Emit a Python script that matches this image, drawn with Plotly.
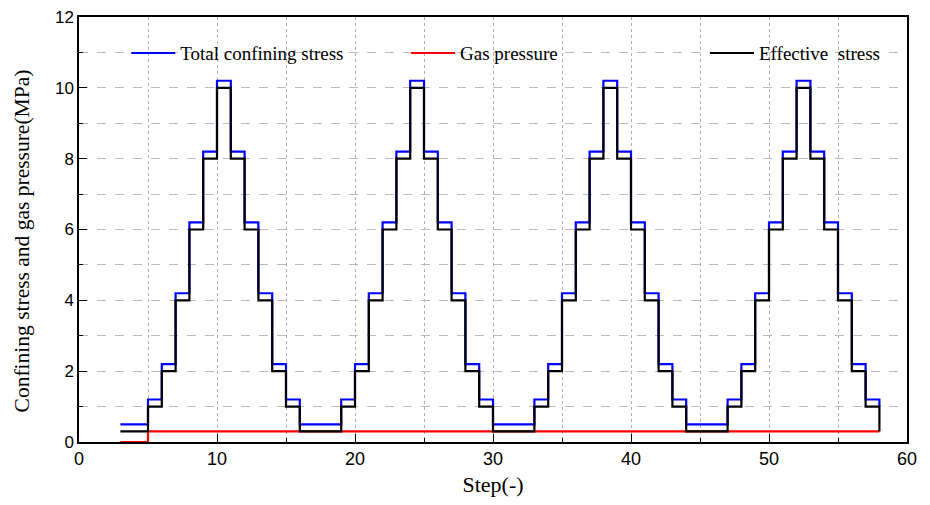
import plotly.graph_objects as go

# step boundaries and levels (line_shape="hv": each value holds until the next step)
total_steps = [3, 5, 6, 7, 8, 9, 10, 11, 12, 13, 14, 15, 16,
               19, 20, 21, 22, 23, 24, 25, 26, 27, 28, 29, 30,
               33, 34, 35, 36, 37, 38, 39, 40, 41, 42, 43, 44,
               47, 48, 49, 50, 51, 52, 53, 54, 55, 56, 57, 58]
total_stress = [0.5, 1.2, 2.2, 4.2, 6.2, 8.2, 10.2, 8.2, 6.2, 4.2, 2.2, 1.2, 0.5,
                1.2, 2.2, 4.2, 6.2, 8.2, 10.2, 8.2, 6.2, 4.2, 2.2, 1.2, 0.5,
                1.2, 2.2, 4.2, 6.2, 8.2, 10.2, 8.2, 6.2, 4.2, 2.2, 1.2, 0.5,
                1.2, 2.2, 4.2, 6.2, 8.2, 10.2, 8.2, 6.2, 4.2, 2.2, 1.2, 1.0]

gas_steps = [3, 5, 58]
gas_pressure = [0.0, 0.3, 0.3]

eff_steps = [3, 5, 6, 7, 8, 9, 10, 11, 12, 13, 14, 15, 16,
             19, 20, 21, 22, 23, 24, 25, 26, 27, 28, 29, 30,
             33, 34, 35, 36, 37, 38, 39, 40, 41, 42, 43, 44,
             47, 48, 49, 50, 51, 52, 53, 54, 55, 56, 57, 58]
effective_stress = [0.3, 1.0, 2.0, 4.0, 6.0, 8.0, 10.0, 8.0, 6.0, 4.0, 2.0, 1.0, 0.3,
                    1.0, 2.0, 4.0, 6.0, 8.0, 10.0, 8.0, 6.0, 4.0, 2.0, 1.0, 0.3,
                    1.0, 2.0, 4.0, 6.0, 8.0, 10.0, 8.0, 6.0, 4.0, 2.0, 1.0, 0.3,
                    1.0, 2.0, 4.0, 6.0, 8.0, 10.0, 8.0, 6.0, 4.0, 2.0, 1.0, 0.3]

SERIF = "Liberation Serif"
SANS = "Liberation Sans"

fig = go.Figure()
fig.add_trace(go.Scatter(
    x=total_steps, y=total_stress, mode="lines", line_shape="hv",
    line=dict(color="#0000ff", width=2.2), name="Total confining stress",
    legend="legend", showlegend=True,
))
fig.add_trace(go.Scatter(
    x=gas_steps, y=gas_pressure, mode="lines", line_shape="hv", cliponaxis=False,
    line=dict(color="#ff0000", width=2.2), name="Gas pressure",
    legend="legend2", showlegend=True,
))
fig.add_trace(go.Scatter(
    x=eff_steps, y=effective_stress, mode="lines", line_shape="hv",
    line=dict(color="#000000", width=2.2), name="Effective  stress",
    legend="legend3", showlegend=True,
))

fig.update_xaxes(
    range=[0, 60], dtick=10, tick0=0, automargin=False, layer="below traces",
    ticklabeloverflow="allow",
    showline=True, linecolor="black", linewidth=1.5, mirror=True,
    ticks="inside", ticklen=8, tickwidth=1.2, tickcolor="black",
    showgrid=True, gridcolor="#b0b0b0", gridwidth=1, griddash="dot",
    minor=dict(dtick=5, ticks="inside", ticklen=4, tickcolor="black",
               showgrid=True, gridcolor="#b0b0b0", griddash="dot"),
    zeroline=False,
    tickfont=dict(family=SANS, size=18, color="black"),
    title=dict(text="Step(-)", font=dict(family=SERIF, size=22, color="black"), standoff=21),
)
fig.update_yaxes(
    range=[0, 12], dtick=2, tick0=0, automargin=False, layer="below traces",
    ticklabeloverflow="allow",
    showline=True, linecolor="black", linewidth=1.5, mirror=True,
    ticks="inside", ticklen=8, tickwidth=1.2, tickcolor="black",
    showgrid=True, gridcolor="#bcbcbc", gridwidth=1, griddash="dash",
    minor=dict(dtick=1, ticks="inside", ticklen=4, tickcolor="black",
               showgrid=True, gridcolor="#bcbcbc", griddash="dash"),
    zeroline=False,
    tickfont=dict(family=SANS, size=17, color="black"),
)

# y title sits a little below the plot centre in the original, so use an annotation
fig.add_annotation(
    text="Confining stress and gas pressure(MPa)",
    xref="paper", yref="paper", x=-0.069, y=0.474,
    xanchor="center", yanchor="middle", textangle=-90, showarrow=False,
    font=dict(family=SERIF, size=21.5, color="black"),
)

legend_style = dict(
    orientation="h", y=0.915, xanchor="left", yanchor="middle",
    bgcolor="rgba(0,0,0,0)", itemwidth=44,
    font=dict(family=SERIF, size=19, color="black"),
)

# page body adds an 8 px offset, so the figure is a bit smaller than the window
fig.update_layout(
    width=914, height=489,
    margin=dict(l=71, r=15, t=9, b=55),
    plot_bgcolor="white", paper_bgcolor="white",
    showlegend=True,
    legend=dict(legend_style, x=0.057),
    legend2=dict(legend_style, x=0.395),
    legend3=dict(legend_style, x=0.756),
)

fig.write_html("out.html")
